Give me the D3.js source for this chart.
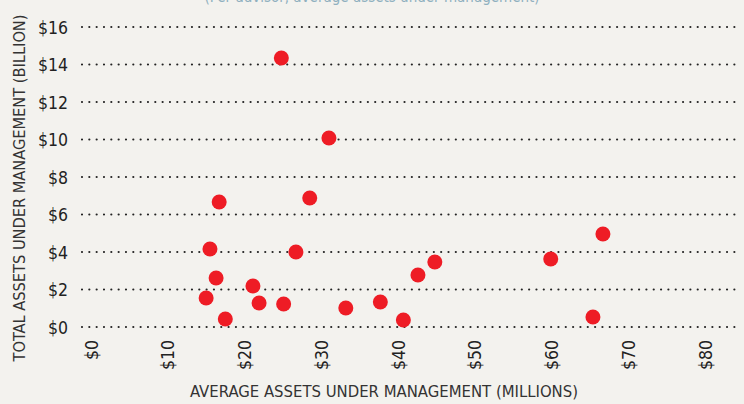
<!DOCTYPE html>
<html><head><meta charset="utf-8">
<script src="https://cdn.jsdelivr.net/npm/d3@7"></script>
<style>
html,body{margin:0;padding:0;background:#f3f2ee;}
svg{display:block;}
</style></head>
<body><svg id="c" width="744" height="404"></svg>
<script>
const avgAUM = [24.8, 31.0, 28.5, 16.7, 15.5, 26.7, 16.3, 21.1, 15.0, 21.9, 25.1, 17.5, 33.2, 37.7, 40.7, 42.6, 44.8, 59.9, 66.7, 65.4];
const totalAUM = [14.35, 10.08, 6.88, 6.67, 4.16, 4.0, 2.61, 2.19, 1.55, 1.28, 1.23, 0.43, 1.01, 1.33, 0.37, 2.77, 3.47, 3.63, 4.96, 0.53];
const xTicks = [0, 10, 20, 30, 40, 50, 60, 70, 80];
const yTicks = [0, 2, 4, 6, 8, 10, 12, 14, 16];
const subtitle = "(Per advisor, average assets under management)";
const xTitle = "AVERAGE ASSETS UNDER MANAGEMENT (MILLIONS)";
const yTitle = "TOTAL ASSETS UNDER MANAGEMENT (BILLION)";

const svg = d3.select("#c");
const font = "'DejaVu Sans Condensed','DejaVu Sans',sans-serif";
const x = d3.scaleLinear().domain([0, 80]).range([91, 705]);
const y = d3.scaleLinear().domain([0, 16]).range([327, 27]);

svg.append("rect").attr("width", 744).attr("height", 404).attr("fill", "#f3f2ee");

svg.append("text").attr("x", 372).attr("y", 2).attr("text-anchor", "middle")
  .attr("font-family", font).attr("font-size", 15).attr("fill", "#8fb0bf").text(subtitle);

// grid
const yAxis = d3.axisLeft(y).tickValues(yTicks).tickFormat(d => "$" + d).tickSize(0).tickPadding(0);
const gy = svg.append("g").attr("transform", "translate(68,0)").call(yAxis);
gy.select(".domain").remove();
gy.selectAll("text").attr("font-family", font).attr("font-size", 17.5).attr("fill", "#222").attr("dy", "0.35em");

svg.append("g").selectAll("line").data(yTicks).join("line")
  .attr("x1", 82).attr("x2", 735).attr("y1", d => y(d)).attr("y2", d => y(d))
  .attr("stroke", "#222").attr("stroke-width", 2.2).attr("stroke-linecap", "round")
  .attr("stroke-dasharray", "0,7.33");

const xAxis = d3.axisBottom(x).tickValues(xTicks).tickFormat(d => "$" + d).tickSize(0).tickPadding(0);
const gx = svg.append("g").attr("transform", "translate(0,340)").call(xAxis);
gx.select(".domain").remove();
gx.selectAll("text").attr("font-family", font).attr("font-size", 17.5).attr("fill", "#222")
  .attr("transform", "rotate(-90)").attr("text-anchor", "end").attr("x", 0).attr("y", 0).attr("dy", "0.35em");

svg.append("g").selectAll("circle").data(avgAUM.map((v, i) => [v, totalAUM[i]])).join("circle")
  .attr("cx", d => x(d[0])).attr("cy", d => y(d[1])).attr("r", 7.5).attr("fill", "#ee1c25");

svg.append("text").attr("x", 384).attr("y", 397).attr("text-anchor", "middle")
  .attr("font-family", font).attr("font-size", 16).attr("fill", "#333")
  .attr("textLength", 388).attr("lengthAdjust", "spacingAndGlyphs").text(xTitle);
svg.append("text").attr("transform", "translate(25,188) rotate(-90)").attr("text-anchor", "middle")
  .attr("font-family", font).attr("font-size", 16).attr("fill", "#333")
  .attr("textLength", 347).attr("lengthAdjust", "spacingAndGlyphs").text(yTitle);
</script></body></html>
